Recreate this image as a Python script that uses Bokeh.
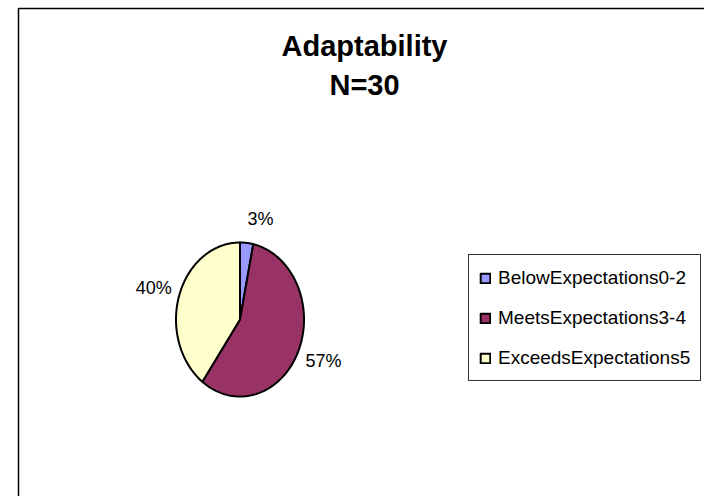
import numpy as np
from bokeh.plotting import figure
from bokeh.models import ColumnDataSource, Range1d, Legend, LegendItem
from bokeh.core.properties import value
from bokeh.embed import file_html
from bokeh.resources import INLINE

# Survey ratings for "Adaptability" (N = 30)
categories = ["BelowExpectations0-2", "MeetsExpectations3-4", "ExceedsExpectations5"]
counts = [1, 17, 12]
colors = ["#9999FF", "#993366", "#FFFFCC"]
title_lines = ["Adaptability", "N=30"]

W, H = 704, 496
FONT = "Liberation Sans"

p = figure(width=W, height=H, x_range=Range1d(0, W), y_range=Range1d(H, 0),
           output_backend="svg", toolbar_location=None, min_border=0,
           x_axis_location=None, y_axis_location=None)
p.grid.visible = False
p.outline_line_color = None
p.background_fill_color = "white"

# chart-area frame (open to the right and bottom)
p.quad(left=[18], right=[W + 20], top=[8], bottom=[H + 20],
       fill_color=None, line_color="black", line_width=1.5)

# title
p.text(x=[364, 364], y=[45, 84], text=title_lines, text_font=value(FONT),
       text_font_size="29px", text_font_style="bold", text_align="center",
       text_baseline="middle", text_color="black")

# pie: elliptical, starting at 12 o'clock, going clockwise
cx, cy, rx, ry = 239.5, 319.0, 64.0, 77.0
total = float(sum(counts))
edges = np.concatenate([[0.0], np.cumsum(counts) / total]) * 2 * np.pi

xs, ys = [], []
for a0, a1 in zip(edges[:-1], edges[1:]):
    t = np.linspace(a0, a1, max(int((a1 - a0) / 0.02), 2))
    xs.append(np.concatenate([[cx], cx + rx * np.sin(t)]).tolist())
    ys.append(np.concatenate([[cy], cy - ry * np.cos(t)]).tolist())

src = ColumnDataSource(dict(xs=xs, ys=ys, color=colors, label=categories))
pie = p.patches("xs", "ys", source=src, fill_color="color", line_color="black",
                line_width=2, line_join="round")

# percentage labels outside the slices
mid = (edges[:-1] + edges[1:]) / 2
pct = [f"{round(100 * c / total):.0f}%" for c in counts]
lx = cx + 1.12 * rx * np.sin(mid)
ly = cy - 1.31 * ry * np.cos(mid)
right_side = np.sin(mid) >= 0
for side, align in ((right_side, "left"), (~right_side, "right")):
    idx = np.where(side)[0]
    if len(idx):
        p.text(x=lx[idx].tolist(), y=ly[idx].tolist(), text=[pct[i] for i in idx],
               text_font=value(FONT), text_font_size="18px", text_align=align,
               text_baseline="middle", text_color="black")

legend = Legend(items=[LegendItem(label=c, renderers=[pie], index=i)
                       for i, c in enumerate(categories)])
legend.location = (468, 115)
legend.margin = 0
legend.padding = 10
legend.spacing = 15
legend.label_height = 25
legend.glyph_width = 12
legend.glyph_height = 12
legend.label_standoff = 7
legend.label_text_font = FONT
legend.label_text_font_size = "19px"
legend.label_text_color = "black"
legend.border_line_color = "black"
legend.border_line_width = 1
legend.border_line_alpha = 0.8
legend.background_fill_color = "white"
legend.background_fill_alpha = 1.0
p.add_layout(legend)

open("out.html", "w").write(file_html(p, INLINE))
